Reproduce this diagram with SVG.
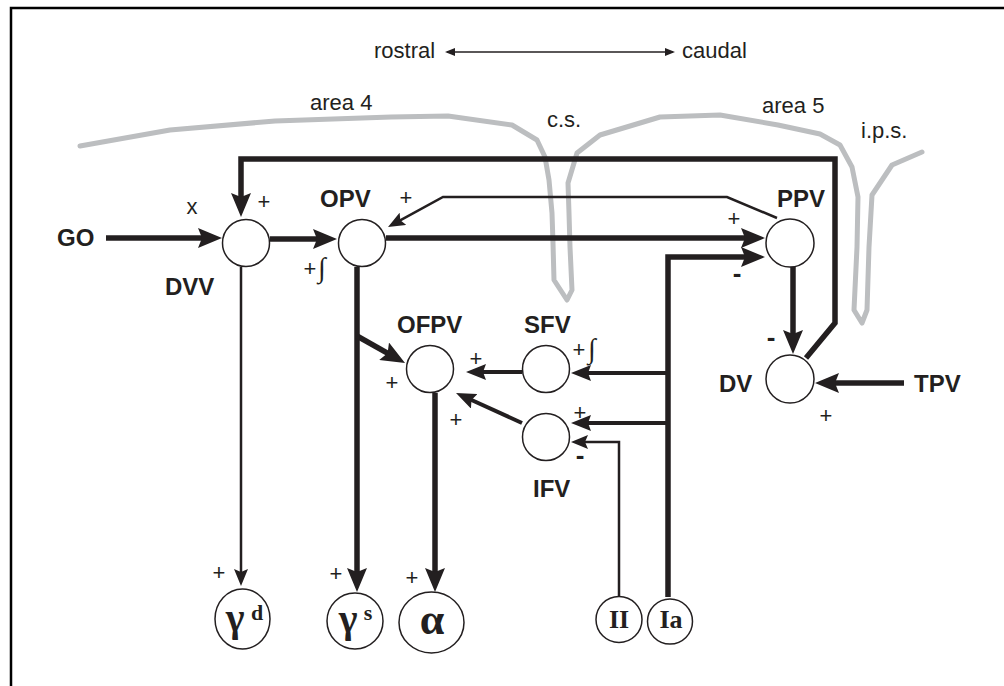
<svg xmlns="http://www.w3.org/2000/svg" width="1004" height="686" viewBox="0 0 1004 686">
<style>
.lbl{font-family:"Liberation Sans",Arial,sans-serif;font-weight:bold;font-size:24px;fill:#231f20}
.txt{font-family:"Liberation Sans",Arial,sans-serif;font-size:22px;fill:#231f20}
.pm{font-family:"Liberation Sans",Arial,sans-serif;font-size:22px;fill:#231f20;text-anchor:middle}
.neg{font-family:"Liberation Sans",Arial,sans-serif;font-weight:bold;font-size:26px;fill:#231f20;text-anchor:middle}
.int{font-family:"Liberation Serif","Times New Roman",serif;font-size:28px;fill:#231f20}
.gr{font-family:"Liberation Serif","Times New Roman",serif;font-weight:bold;fill:#231f20;text-anchor:middle}
.node{fill:#fff;stroke:#231f20;stroke-width:1.5}
.thick{fill:none;stroke:#231f20;stroke-width:5.5;marker-end:url(#ab)}
.med{fill:none;stroke:#231f20;stroke-width:4;marker-end:url(#am)}
.thin{fill:none;stroke:#231f20;stroke-width:2.5;marker-end:url(#at)}
</style>
<defs>
<marker id="ab" viewBox="0 0 24 20" refX="14" refY="10" markerWidth="24" markerHeight="20" orient="auto" markerUnits="userSpaceOnUse"><path d="M0,0 L24,10 L0,20 L4,10 z" fill="#231f20"/></marker>
<marker id="am" viewBox="0 0 20 16" refX="12" refY="8" markerWidth="20" markerHeight="16" orient="auto" markerUnits="userSpaceOnUse"><path d="M0,0 L20,8 L0,16 L3,8 z" fill="#231f20"/></marker>
<marker id="at" viewBox="0 0 17 14" refX="11" refY="7" markerWidth="17" markerHeight="14" orient="auto" markerUnits="userSpaceOnUse"><path d="M0,0 L17,7 L0,14 L3,7 z" fill="#231f20"/></marker>
<marker id="as" viewBox="0 0 10 8" refX="8" refY="4" markerWidth="10" markerHeight="8" orient="auto-start-reverse" markerUnits="userSpaceOnUse"><path d="M0,0 L10,4 L0,8 z" fill="#231f20"/></marker>
</defs>
<rect width="1004" height="686" fill="#fff"/>
<path d="M11,686 V8 H1004" fill="none" stroke="#000" stroke-width="2.5"/>

<g id="orientation">
<text class="txt" x="374" y="58">rostral</text>
<path d="M447,52 H673" stroke="#231f20" stroke-width="1.5" marker-start="url(#as)" marker-end="url(#as)"/>
<text class="txt" x="682" y="58">caudal</text>
</g>

<g id="cortex">
<path d="M80,146 L170,130 L275,121 L391,117 L448,116 L512,125 L537,140 L545,157 L549,180 L552,213 L553,243 L554,280 L567,300 L572,290 L570,247 L569,213 L568,183 L577,153 L600,135 L660,117 L720,115 L778,125 L820,134 L840,145 L852,167 L858,197 L857,247 L854,310 L862,323 L867,310 L869,247 L872,195 L892,165 L922,152" fill="none" stroke="#bcbec0" stroke-width="5" stroke-linejoin="round" stroke-linecap="round"/>
<text class="txt" x="310" y="110" font-size="26">area 4</text>
<text class="txt" x="762" y="113" font-size="26">area 5</text>
<text class="txt" x="547" y="127" font-size="22">c.s.</text>
<text class="txt" x="861" y="138" font-size="22">i.p.s.</text>
</g>

<g id="connectors">
<path class="thick" d="M106,238 H212"/>
<path class="thick" d="M806,358 L835,323 V159 H241 V207"/>
<path class="thick" d="M270,239 H327"/>
<path class="thick" d="M386,238 H755"/>
<path class="thick" d="M668,597 V257 H755"/>
<path class="thick" d="M793,267 V344"/>
<path class="thick" d="M904,383 H825"/>
<path class="thick" d="M357,267 V582"/>
<path class="thick" d="M357,336 L396.3,358.1"/>
<path class="thick" d="M435,393 V582"/>
<path class="med" d="M668,373 H579"/>
<path class="med" d="M522,372 H474"/>
<path class="med" d="M668,423 H579"/>
<path class="med" d="M522,423 L463.3,396.3"/>
<path class="thin" d="M241,267 V580"/>
<path class="thin" d="M777,218 L727,197 H443 L393.3,224.1"/>
<path class="thin" d="M619,596 V442 H577"/>
</g>

<g id="GO"><text class="lbl" x="57" y="246">GO</text></g>
<g id="TPV"><text class="lbl" x="914" y="392">TPV</text></g>

<g id="DVV">
<circle class="node" cx="246" cy="243" r="23.5"/>
<text class="lbl" x="165" y="295">DVV</text>
<text class="pm" x="192" y="214">x</text>
<text class="pm" x="264" y="209">+</text>
</g>

<g id="OPV">
<circle class="node" cx="362" cy="243" r="23.5"/>
<text class="lbl" x="320" y="207">OPV</text>
<text class="pm" x="406" y="205">+</text>
<text class="pm" x="310" y="276">+</text>
<text class="int" x="318" y="277">∫</text>
</g>

<g id="PPV">
<circle class="node" cx="790" cy="243" r="24"/>
<text class="lbl" x="777" y="207">PPV</text>
<text class="pm" x="734" y="226">+</text>
<text class="neg" x="737" y="282">-</text>
</g>

<g id="DV">
<circle class="node" cx="790" cy="379" r="24"/>
<text class="lbl" x="719" y="392">DV</text>
<text class="neg" x="771" y="346">-</text>
<text class="pm" x="826" y="423">+</text>
</g>

<g id="OFPV">
<circle class="node" cx="430" cy="369" r="23.5"/>
<text class="lbl" x="397" y="333">OFPV</text>
<text class="pm" x="476" y="366">+</text>
<text class="pm" x="392" y="390">+</text>
<text class="pm" x="456" y="427">+</text>
</g>

<g id="SFV">
<circle class="node" cx="546" cy="369" r="23.5"/>
<text class="lbl" x="524" y="333">SFV</text>
<text class="pm" x="579" y="357">+</text>
<text class="int" x="588" y="358">∫</text>
</g>

<g id="IFV">
<circle class="node" cx="546" cy="437" r="23.5"/>
<text class="lbl" x="533" y="497">IFV</text>
<text class="pm" x="580" y="420">+</text>
<text class="neg" x="580" y="464">-</text>
</g>

<g id="gamma-d">
<ellipse class="node" cx="242.5" cy="619" rx="27.5" ry="30"/>
<text class="gr" x="235" y="631" font-size="40">γ</text>
<text class="gr" x="257" y="620" font-size="22">d</text>
<text class="pm" x="219" y="580">+</text>
</g>

<g id="gamma-s">
<ellipse class="node" cx="355" cy="621" rx="28" ry="28"/>
<text class="gr" x="348" y="632" font-size="40">γ</text>
<text class="gr" x="368" y="620" font-size="22">s</text>
<text class="pm" x="336" y="581">+</text>
</g>

<g id="alpha">
<ellipse class="node" cx="431.5" cy="622.5" rx="32.5" ry="30.5"/>
<text class="gr" x="432" y="634" font-size="44">α</text>
<text class="pm" x="412" y="585">+</text>
</g>

<g id="II">
<circle class="node" cx="619" cy="619.5" r="23"/>
<text class="gr" x="619" y="628" font-size="26">II</text>
</g>

<g id="Ia">
<circle class="node" cx="670" cy="621.5" r="22.5"/>
<text class="gr" x="671" y="628" font-size="26">Ia</text>
</g>
</svg>
